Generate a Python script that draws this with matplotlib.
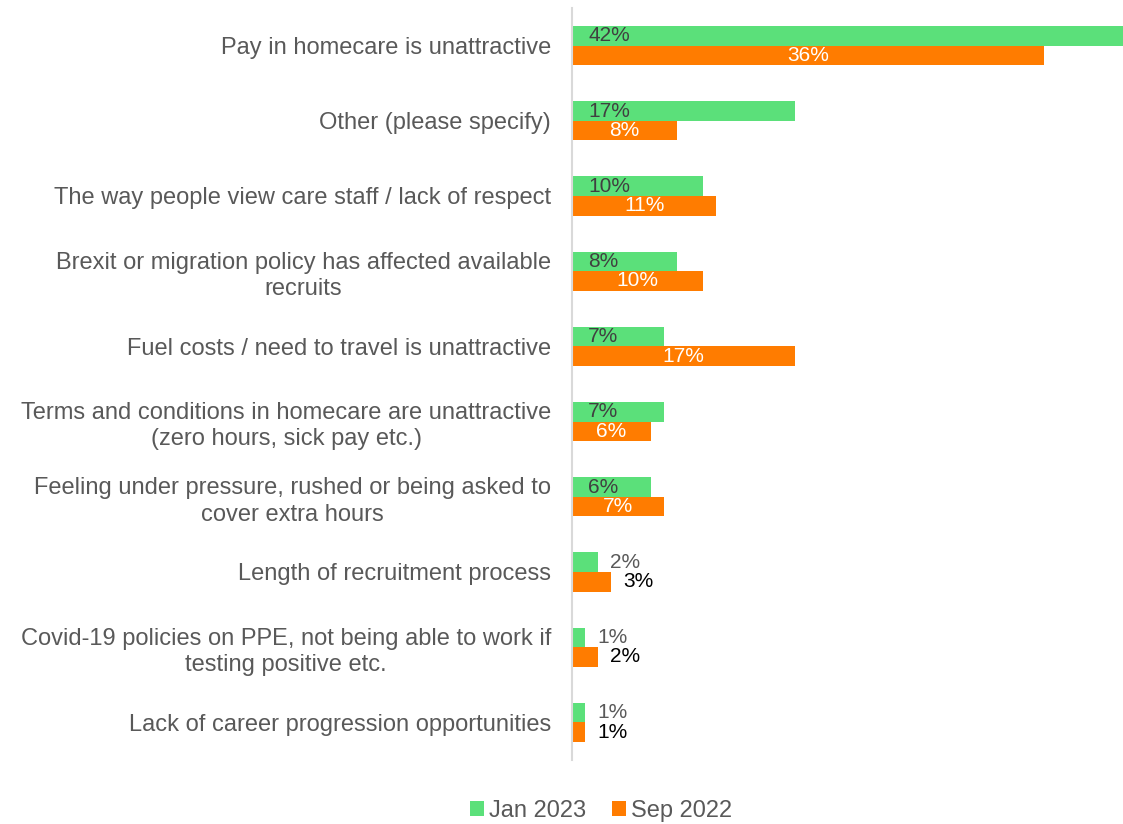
import matplotlib.pyplot as plt
import numpy as np

plt.rcParams['font.family'] = ['Liberation Sans', 'DejaVu Sans']

reasons = ['Pay in homecare is unattractive',
           'Other (please specify)',
           'The way people view care staff / lack of respect',
           'Brexit or migration policy has affected available\nrecruits',
           'Fuel costs / need to travel is unattractive',
           'Terms and conditions in homecare are unattractive\n(zero hours, sick pay etc.)',
           'Feeling under pressure, rushed or being asked to\ncover extra hours',
           'Length of recruitment process',
           'Covid-19 policies on PPE, not being able to work if\ntesting positive etc.',
           'Lack of career progression opportunities']
jan_2023 = [42, 17, 10, 8, 7, 7, 6, 2, 1, 1]
sep_2022 = [36, 8, 11, 10, 17, 6, 7, 3, 2, 1]

green = '#5BE07A'
orange = '#FF7C00'
grey_txt = '#595959'

fig = plt.figure(figsize=(11.23, 8.24), dpi=100)
ax = fig.add_axes([0.5094, 0.0777, 0.4906, 0.9126])

y = np.arange(len(reasons))
h = 0.26
b1 = ax.barh(y - h / 2, jan_2023, height=h, color=green, label='Jan 2023')
b2 = ax.barh(y + h / 2, sep_2022, height=h, color=orange, label='Sep 2022')

ax.set_xlim(0, 42)
ax.set_ylim(len(reasons) - 0.5, -0.5)
ax.set_yticks(y)
ax.set_yticklabels(reasons, fontsize=17, color=grey_txt, ha='right',
                   multialignment='center', linespacing=1.25)
ax.tick_params(axis='y', length=0, pad=15)
ax.set_xticks([])
for s in ['top', 'right', 'bottom']:
    ax.spines[s].set_visible(False)
ax.spines['left'].set_color('#D9D9D9')
ax.spines['left'].set_linewidth(1.5)

# value labels: inside when the bar is wide enough, otherwise just past the end
for i, v in enumerate(jan_2023):
    if v >= 5:
        ax.annotate(f'{v}%', (0, y[i] - h / 2), xytext=(16, 0), textcoords='offset pixels',
                    va='center', ha='left', fontsize=15, color='#404040')
    else:
        ax.annotate(f'{v}%', (v, y[i] - h / 2), xytext=(12, 0), textcoords='offset pixels',
                    va='center', ha='left', fontsize=15, color=grey_txt)
for i, v in enumerate(sep_2022):
    if v >= 5:
        ax.text(v / 2, y[i] + h / 2, f'{v}%', va='center', ha='center',
                fontsize=15, color='white')
    else:
        ax.annotate(f'{v}%', (v, y[i] + h / 2), xytext=(12, 0), textcoords='offset pixels',
                    va='center', ha='left', fontsize=15, color='black')

fig.legend(handles=[b1, b2], loc='center', bbox_to_anchor=(0.535, 0.016), ncol=2,
           frameon=False, fontsize=17, labelcolor=grey_txt, handlelength=0.6,
           handleheight=0.6, handletextpad=0.2, columnspacing=1.1)

fig.savefig('out.png', dpi=100)
